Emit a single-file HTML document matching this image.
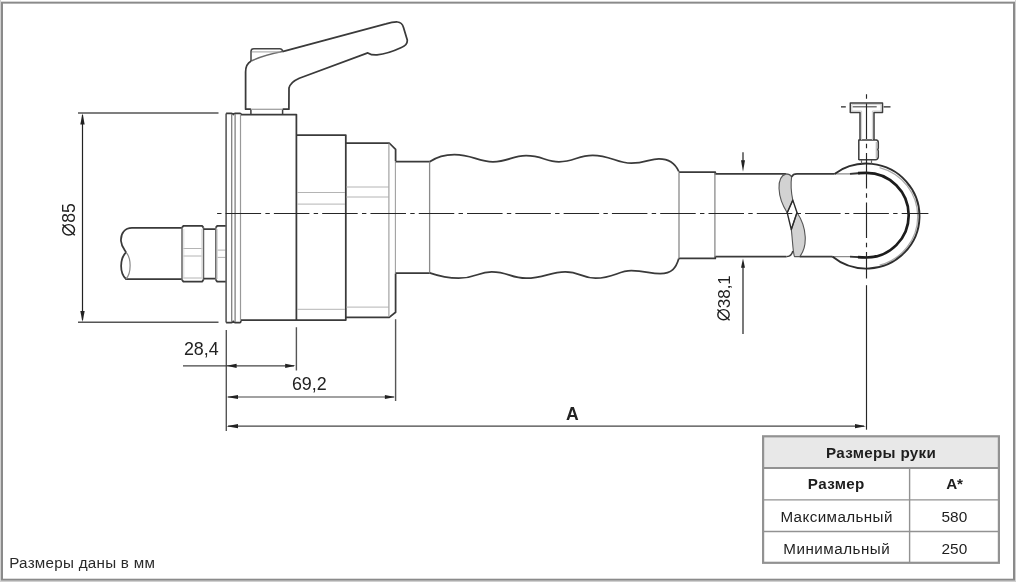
<!DOCTYPE html>
<html><head><meta charset="utf-8">
<style>
html,body{margin:0;padding:0;background:#fff;}
body{width:1016px;height:582px;overflow:hidden;position:relative;}
svg{position:absolute;left:0;top:0;will-change:transform;}
text{font-family:"Liberation Sans",sans-serif;}
</style></head>
<body>
<svg width="1016" height="582" viewBox="0 0 1016 582">
<!-- frame -->
<path d="M0.5 0 V582 M0 581.5 H1016 M1015.5 0 V582" stroke="#d0d0d0" stroke-width="1" fill="none"/>
<rect x="2" y="2.65" width="1012" height="577.05" fill="none" stroke="#8a8a8a" stroke-width="2"/>

<!-- ===== object outlines ===== -->
<g fill="none" stroke-linejoin="round" stroke-linecap="butt">
<!-- pipe -->
<g stroke="#3a3a3a" stroke-width="1.75">
<path d="M182 227.9 L132 227.9 C125 227.9 120.5 233 121 241 C121.5 247 125 250 126 252.4 C119.5 259 119.5 273 126 279 L182 279"/>
</g>
<path d="M126 252.4 C131.5 258 131.5 273 126 279" stroke="#8a8a8a" stroke-width="1.2"/>
<!-- nut 1 -->
<path d="M182 227.6 L183.4 225.9 H202.1 L203.5 227.6 M182 279.9 L183.4 281.6 H202.1 L203.5 279.9" stroke="#3a3a3a" stroke-width="1.75"/>
<path d="M182 227.3 V280.2 M203.5 227.3 V280.2" stroke="#666" stroke-width="1.5"/>
<path d="M183.2 248.5 H202.3 M183.2 256 H202.3 M183.2 278 H202.3" stroke="#b4b4b4" stroke-width="1"/>
<path d="M183.8 229 V278 M201.7 229 V278" stroke="#d4d4d4" stroke-width="0.8"/>
<!-- narrow -->
<path d="M203.5 229.2 H215.8 M203.5 278.7 H215.8" stroke="#3a3a3a" stroke-width="1.75"/>
<!-- nut 2 -->
<path d="M215.8 227.6 L217.2 225.9 H226.1 M215.8 279.9 L217.2 281.6 H226.1" stroke="#3a3a3a" stroke-width="1.75"/>
<path d="M215.8 227.3 V280.2" stroke="#666" stroke-width="1.5"/>
<path d="M217 250.1 H225.5 M217 257.4 H225.5" stroke="#b4b4b4" stroke-width="1"/>
<path d="M217.5 229 V279" stroke="#d0d0d0" stroke-width="0.8"/>

<!-- flange -->
<path d="M226.1 113.5 V322.5" stroke="#5a5a5a" stroke-width="1.6"/>
<path d="M226.1 113.3 L231.5 113.3 Q232.6 113.3 233.3 114.5 Q234 113.3 235.1 113.3 L240 113.3 Q240.8 113.3 241.2 114.6" stroke="#3a3a3a" stroke-width="1.75"/>
<path d="M226.1 322.5 L231.5 322.5 Q232.6 322.5 233.3 321.3 Q234 322.5 235.1 322.5 L240 322.5 Q240.8 322.5 241.2 320.1" stroke="#3a3a3a" stroke-width="1.75"/>
<path d="M231.7 114 V322 M235.1 114 V322" stroke="#808080" stroke-width="1.3"/>
<path d="M240.5 114 V321" stroke="#999" stroke-width="1.2"/>

<!-- body -->
<path d="M241 114.6 H296.4 V320.1 H241" stroke="#3a3a3a" stroke-width="1.75"/>
<!-- section 2 -->
<path d="M296.4 135 H345.8 V320.1 H296.4" stroke="#3a3a3a" stroke-width="1.75"/>
<path d="M297 192.5 H345 M297 204.1 H345 M297 309.3 H345" stroke="#b4b4b4" stroke-width="1"/>
<!-- section 3 -->
<path d="M345.8 143 H389.2 L395.6 149.4 V161.2 M345.8 317.4 H389.2 L395.6 312.2 V273.4" stroke="#3a3a3a" stroke-width="1.75"/>
<path d="M346.5 187 H388.5 M346.5 197 H388.5 M346.5 307.1 H388.5" stroke="#b4b4b4" stroke-width="1"/>
<path d="M388.9 143.5 V317" stroke="#9a9a9a" stroke-width="1.1"/>
<path d="M395.4 161.5 V273" stroke="#a0a0a0" stroke-width="1.1"/>
<!-- tube 1 -->
<path d="M395.6 161.5 H429.6 M395.6 273.2 H429.6" stroke="#3a3a3a" stroke-width="1.75"/>
<path d="M429.6 161.8 V272.9" stroke="#8a8a8a" stroke-width="1.3"/>
<!-- grip -->
<path d="M429.6 161.8 C438 156 445 154.6 454.4 154.6 C472 154.6 478 161.8 493 161.8 C508 161.8 512 155.7 526.1 155.7 C542 155.7 546 161.8 559 161.8 C574 161.8 578 155.3 592.7 155.3 C610 155.3 617 163.2 631.3 163.2 C645 163.2 650 158.8 658.9 158.8 C670 158.8 676 165 678.8 171.5" stroke="#3a3a3a" stroke-width="1.75"/>
<path d="M429.6 272.9 C440 276.5 448 278.2 458.6 278.2 C476 278.2 478 271.8 491.7 271.8 C508 271.8 511 278.2 526.1 278.2 C544 278.2 550 271.8 565.2 271.8 C580 271.8 582 278.2 595.5 278.2 C614 278.2 618 270.7 631.3 270.7 C645 270.7 650 273.7 660.2 273.7 C672 273.7 676 268 678.8 258.6" stroke="#3a3a3a" stroke-width="1.75"/>
<!-- tube 2 -->
<path d="M678.8 172 H715.3 V173.9 H786" stroke="#3a3a3a" stroke-width="1.75"/>
<path d="M678.8 258.4 H715.3 V256.6 H786.5" stroke="#3a3a3a" stroke-width="1.75"/>
<path d="M679 172.5 V258 M714.9 173 V257" stroke="#8a8a8a" stroke-width="1.3"/>
<!-- twist -->
<path d="M786 173.9 C776 177 777 197 787.2 212.7 L792.8 200.1 C791.3 193 790.6 184 791.6 176.8 Q790 174 786 173.9 Z" fill="#d2d2d2" stroke="#555" stroke-width="1.1"/>
<path d="M797 212.5 C807.5 228 807.5 247 799.8 256.6 L794.5 256.6 C792.8 252 792.6 240 791.3 229.5 Z" fill="#d2d2d2" stroke="#555" stroke-width="1.1"/>
<path d="M787.2 212.7 L792.8 200.1 L797 212.5 L791.3 229.5 Z" stroke="#2a2a2a" stroke-width="1.4"/>
<path d="M791.6 176.8 Q793 173.9 797 173.9 H834.5 M799.8 256.6 H832.3" stroke="#3a3a3a" stroke-width="1.75"/>
<path d="M786.5 256.6 Q791.5 256.6 792.8 251" stroke="#3d3d3d" stroke-width="1.4"/>
<path d="M834.5 173.9 H860 M832.3 256.6 H860" stroke="#8c8c8c" stroke-width="1.3"/>
<!-- rings -->
<path d="M879.6 167.6 A51.3 50.5 0 0 1 879.6 265.2" stroke="#a8a8a8" stroke-width="1.2"/>
<path d="M834.5 173.9 A53.3 52.5 0 1 1 832.3 256.6" stroke="#2e2e2e" stroke-width="1.9"/>
<path d="M850 173.9 Q858 173.1 866.3 172.9 M866.3 257.5 Q858 257.2 850 256.6" stroke="#333" stroke-width="1.6"/>
<path d="M858 173.2 Q862 172.9 866.3 172.9 A42.4 42.3 0 0 1 908.7 215.2 A42.4 42.3 0 0 1 866.3 257.5 Q862 257.5 858 257.2" stroke="#1c1c1c" stroke-width="2.7"/>
<!-- T handle -->
<path d="M858.8 160 V140 H876.5 Q878.5 140.5 878.3 143 V148 Q877.3 149.5 878.3 151 V157 Q878 159.8 875.5 159.8 H858.8" stroke="#3d3d3d" stroke-width="1.5"/>
<path d="M876.3 142 V158" stroke="#b8b8b8" stroke-width="1.2"/>
<path d="M861.5 160 V163.5 M871.5 160 V163.5" stroke="#666" stroke-width="1.2"/>
<path d="M860 140 V112.4 H850.3 V103.1 H882.5 V112.4 H874 V140" stroke="#3d3d3d" stroke-width="1.5"/>
<path d="M861.6 140 V111 H851.8 V104.6 H881 V111 H872.4 V140" stroke="#c8c8c8" stroke-width="0.9"/>
<path d="M852.7 106.8 H876.7" stroke="#555" stroke-width="1.2"/>
<!-- lever -->
<path d="M282.4 51.6 L385.9 23.9 Q393 21.8 397.5 22 Q402 22.3 403.5 27.4 L407.2 39.7 Q408 45 401.4 47.5 Q388 53.8 377 54.9 Q371.5 55.2 367.8 52.9 L299.3 78.2 Q290.5 82 289 88 L288.9 109.2 H282.6 M250.9 109.2 H245.6 V72 Q245.6 64 251.2 61" stroke="#3a3a3a" stroke-width="1.75"/>
<path d="M251.2 61 Q263 55.5 282.4 51.6" stroke="#6a6a6a" stroke-width="1.5"/>
<path d="M251 61 V51.5 Q251 48.8 253.8 48.8 L279.8 48.8 Q282 48.8 282.8 51.5" stroke="#444" stroke-width="1.5"/>
<path d="M252 51.9 H280" stroke="#a8a8a8" stroke-width="1.1"/>
<path d="M250.9 109.3 V114.6 M282.6 109.3 V114.6" stroke="#3d3d3d" stroke-width="1.5"/>
<path d="M251 109.3 H282.5" stroke="#a0a0a0" stroke-width="1.3"/>
</g>

<!-- ===== centerlines ===== -->
<g stroke="#262626" stroke-width="1.15" fill="none">
<path d="M217.1 213.5 H928.4" stroke-dasharray="4.4 4.1 35.5 4.29" />
<path d="M866.5 94.2 V278.6" stroke-dasharray="4.5 4.8 35.5 4.7" />
<path d="M866.5 285.2 V429.7"/>
<path d="M841 106.8 H845.8 M883.6 106.8 H890.5"/>
</g>

<!-- ===== dimension lines ===== -->
<g stroke="#555" stroke-width="1.4" fill="none">
<path d="M78 113 H218.5 M78 322.2 H218.5"/>
<path d="M226.3 330 V431 M296.4 327.2 V370.6 M395.6 319.3 V401"/>
</g>
<g stroke="#222" stroke-width="1.2" fill="none">
<path d="M82.5 115 V320"/>
<path d="M743 152.3 V165 M743 264 V333.9"/>
</g>
<g stroke="#444" stroke-width="1.2" fill="none">
<path d="M183 365.8 H294"/>
<path d="M228 397 H394"/>
<path d="M228 426.2 H864"/>
</g>
<g fill="#222">
<path d="M82.5 113.3 L84.7 124.5 L80.3 124.5 Z"/>
<path d="M82.5 322 L84.7 311 L80.3 311 Z"/>
<path d="M226.5 365.8 L236.6 363.7 L236.6 367.9 Z"/>
<path d="M295.5 365.8 L285.2 363.7 L285.2 367.9 Z"/>
<path d="M226.5 397 L238 394.9 L238 399.1 Z"/>
<path d="M395.2 397 L384.9 394.9 L384.9 399.1 Z"/>
<path d="M226.5 426.2 L238 424.1 L238 428.3 Z"/>
<path d="M866 426.2 L855 424.1 L855 428.3 Z"/>
<path d="M743 171.8 L745 160.2 L741 160.2 Z"/>
<path d="M743 258.4 L745 267.8 L741 267.8 Z"/>
</g>

<!-- ===== texts ===== -->
<g fill="#222" font-family="Liberation Sans, sans-serif">
<text x="183.9" y="355.3" font-size="17.9">28,4</text>
<text x="291.9" y="390.2" font-size="17.9">69,2</text>
<text x="566" y="419.8" font-size="17.6" font-weight="bold">A</text>
<text transform="translate(75.3 236.5) rotate(-90)" font-size="17.6"><tspan fill="transparent">Ø</tspan>85</text>
<g fill="none" stroke="#1e1e1e" stroke-width="1.45"><ellipse cx="68.6" cy="229.8" rx="5.9" ry="5.2"/><path d="M62.5 224.5 L74.8 235.2"/></g>
<text transform="translate(729.8 321.5) rotate(-90)" font-size="17"><tspan fill="transparent">Ø</tspan>38,1</text>
<g fill="none" stroke="#1e1e1e" stroke-width="1.4"><ellipse cx="723.5" cy="314.7" rx="5.7" ry="5.1"/><path d="M717.4 309.5 L729.6 320.2"/></g>
<text x="9.2" y="567.9" font-size="15.2" fill="#2a2a2a" letter-spacing="0.27">Размеры даны в мм</text>
</g>

<!-- ===== table ===== -->
<rect x="763.1" y="436.3" width="235.8" height="31.5" fill="#e8e8e8"/>
<g stroke="#929292" fill="none">
<rect x="763.1" y="436.3" width="235.8" height="126.5" stroke-width="2.2"/>
<path d="M763.1 468 H998.9" stroke-width="2.2"/>
<path d="M763.1 499.9 H998.9 M763.1 531.5 H998.9" stroke-width="1.4"/>
<path d="M909.6 468 V562.8" stroke-width="1.4"/>
</g>
<g fill="#1e1e1e" font-family="Liberation Sans, sans-serif" text-anchor="middle">
<text x="881.1" y="457.8" font-size="15.2" font-weight="bold" letter-spacing="0.32">Размеры руки</text>
<text x="836.3" y="489.3" font-size="15.2" font-weight="bold" letter-spacing="0.36">Размер</text>
<text x="954.6" y="489.4" font-size="15.2" font-weight="bold">A*</text>
<text x="836.6" y="522.1" font-size="15.2" letter-spacing="0.4">Максимальный</text>
<text x="954.4" y="522.1" font-size="15.4">580</text>
<text x="836.8" y="554.1" font-size="15.2" letter-spacing="0.49">Минимальный</text>
<text x="954.4" y="554.1" font-size="15.4">250</text>
</g>
</svg>
</body></html>
